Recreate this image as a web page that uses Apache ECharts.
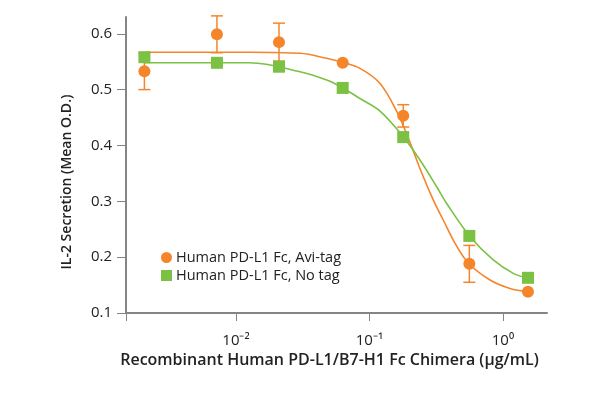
<!DOCTYPE html>
<html>
<head>
<meta charset="utf-8">
<script src="https://cdn.jsdelivr.net/npm/echarts@6/dist/echarts.min.js"></script>
<style>
html,body{margin:0;padding:0;background:#fff;}
#chart{width:597px;height:393px;}
</style>
</head>
<body>
<div id="chart"></div>
<script>
// ---- data (concentrations in µg/mL) ----
const conc = [0.00206, 0.0072, 0.021, 0.063, 0.179, 0.56, 1.54];
const aviMean = [0.533, 0.599, 0.585, 0.548, 0.453, 0.188, 0.138];
const aviErr = [0.033, 0.033, 0.034, 0, 0.02, 0.033, 0];
const noTagMean = [0.558, 0.548, 0.541, 0.503, 0.415, 0.238, 0.163];

// fitted curves
const aviCurveConc = [0.00206, 0.00537, 0.0127, 0.0302, 0.0478, 0.0625, 0.0849, 0.12, 0.1607, 0.1977, 0.246, 0.301, 0.357, 0.437, 0.55, 0.80, 1.128, 1.55];
const aviCurveVal = [0.567, 0.567, 0.567, 0.565, 0.556, 0.549, 0.538, 0.511, 0.460, 0.410, 0.351, 0.302, 0.2665, 0.225, 0.1895, 0.159, 0.144, 0.138];
const noTagCurveConc = [0.00206, 0.00537, 0.0127, 0.0302, 0.0478, 0.063, 0.0849, 0.12, 0.179, 0.239, 0.319, 0.379, 0.566, 0.846, 1.195, 1.55];
const noTagCurveVal = [0.548, 0.548, 0.548, 0.532, 0.517, 0.503, 0.484, 0.4615, 0.4157, 0.374, 0.326, 0.296, 0.237, 0.195, 0.171, 0.162];

const seriesNames = ['Human PD-L1 Fc, Avi-tag', 'Human PD-L1 Fc, No tag'];
const xTickExps = [-2, -1, 0];
const xTickLabels = ['10\u207B\u00B2', '10\u207B\u00B9', '10\u2070'];
const yTicks = [0.1, 0.2, 0.3, 0.4, 0.5, 0.6];
const xTitle = 'Recombinant Human PD-L1/B7-H1 Fc Chimera (\u03BCg/mL)';
const yTitle = 'IL-2 Secretion (Mean O.D.)';

// axis range (log10 space)
const xMin = -2.824, xMax = 0.33;
const yMin = 0.1, yMax = 0.63;

const ORANGE = '#F5852A';
const GREEN = '#7BC143';
const AXIS = '#858585';
const FONT = 'Open Sans';

const lg = v => Math.log10(v);
const pairs = (xs, ys) => xs.map((x, i) => [lg(x), ys[i]]);

const errData = conc.map((c, i) => [lg(c), aviMean[i] - aviErr[i], aviMean[i] + aviErr[i]]).filter((d, i) => aviErr[i] > 0);

const chart = echarts.init(document.getElementById('chart'), null, {renderer: 'canvas'});
chart.setOption({
  animation: false,
  backgroundColor: '#fff',
  grid: {left: 126, right: 50, top: 17, bottom: 80, containLabel: false},
  legend: {
    orient: 'vertical', left: 156, top: 245, itemWidth: 11, itemHeight: 11, itemGap: 3,
    data: [{name: seriesNames[0], icon: 'circle'}, {name: seriesNames[1], icon: 'rect'}],
    textStyle: {fontFamily: FONT, fontSize: 14.5, color: '#222', padding: [0, 0, 0, -1]}
  },
  xAxis: {
    type: 'value', min: xMin, max: xMax,
    name: xTitle, nameLocation: 'middle', nameGap: 39,
    nameTextStyle: {fontFamily: FONT, fontSize: 16, fontWeight: 600, color: '#222', padding: [0, 14, 0, 0]},
    axisLine: {onZero: false, lineStyle: {color: AXIS, width: 2}},
    axisTick: {show: true, length: 8, lineStyle: {color: AXIS, width: 1}, customValues: [xMin].concat(xTickExps)},
    axisLabel: {customValues: xTickExps, margin: 20, fontFamily: FONT, fontSize: 15, color: '#222',
      formatter: v => { const i = xTickExps.indexOf(Math.round(v)); return i >= 0 ? xTickLabels[i] : ''; }},
    splitLine: {show: false}
  },
  yAxis: {
    type: 'value', min: yMin, max: yMax,
    name: yTitle, nameLocation: 'middle', nameGap: 52, nameRotate: 90,
    nameTextStyle: {fontFamily: FONT, fontSize: 14, fontWeight: 600, color: '#222', padding: [0, 34, 0, 0]},
    axisLine: {onZero: false, lineStyle: {color: AXIS, width: 2}},
    axisTick: {show: true, length: 9, lineStyle: {color: AXIS, width: 1}, customValues: yTicks},
    axisLabel: {customValues: yTicks, margin: 14, fontFamily: FONT, fontSize: 15, color: '#222',
      formatter: v => v.toFixed(1)},
    splitLine: {show: false}
  },
  series: [
    {name: 'fitAvi', type: 'line', data: pairs(aviCurveConc, aviCurveVal), smooth: 0.35, symbol: 'none',
      lineStyle: {color: ORANGE, width: 1.6}, z: 1, silent: true},
    {name: 'fitNoTag', type: 'line', data: pairs(noTagCurveConc, noTagCurveVal), smooth: 0.35, symbol: 'none',
      lineStyle: {color: GREEN, width: 1.6}, z: 1, silent: true},
    {name: 'errAvi', type: 'custom', z: 2, silent: true, data: errData,
      renderItem: (params, api) => {
        const x = api.value(0);
        const lo = api.coord([x, api.value(1)]);
        const hi = api.coord([x, api.value(2)]);
        const hw = 6;
        const st = {stroke: ORANGE, lineWidth: 1.5};
        return {type: 'group', children: [
          {type: 'line', shape: {x1: lo[0], y1: lo[1], x2: hi[0], y2: hi[1]}, style: st},
          {type: 'line', shape: {x1: lo[0] - hw, y1: lo[1], x2: lo[0] + hw, y2: lo[1]}, style: st},
          {type: 'line', shape: {x1: hi[0] - hw, y1: hi[1], x2: hi[0] + hw, y2: hi[1]}, style: st}
        ]};
      }},
    {name: seriesNames[0], type: 'scatter', data: pairs(conc, aviMean), symbol: 'circle', symbolSize: 12,
      itemStyle: {color: ORANGE, opacity: 1}, z: 3},
    {name: seriesNames[1], type: 'scatter', data: pairs(conc, noTagMean), symbol: 'rect', symbolSize: 12,
      itemStyle: {color: GREEN, opacity: 1}, z: 4}
  ]
});
</script>
</body>
</html>
